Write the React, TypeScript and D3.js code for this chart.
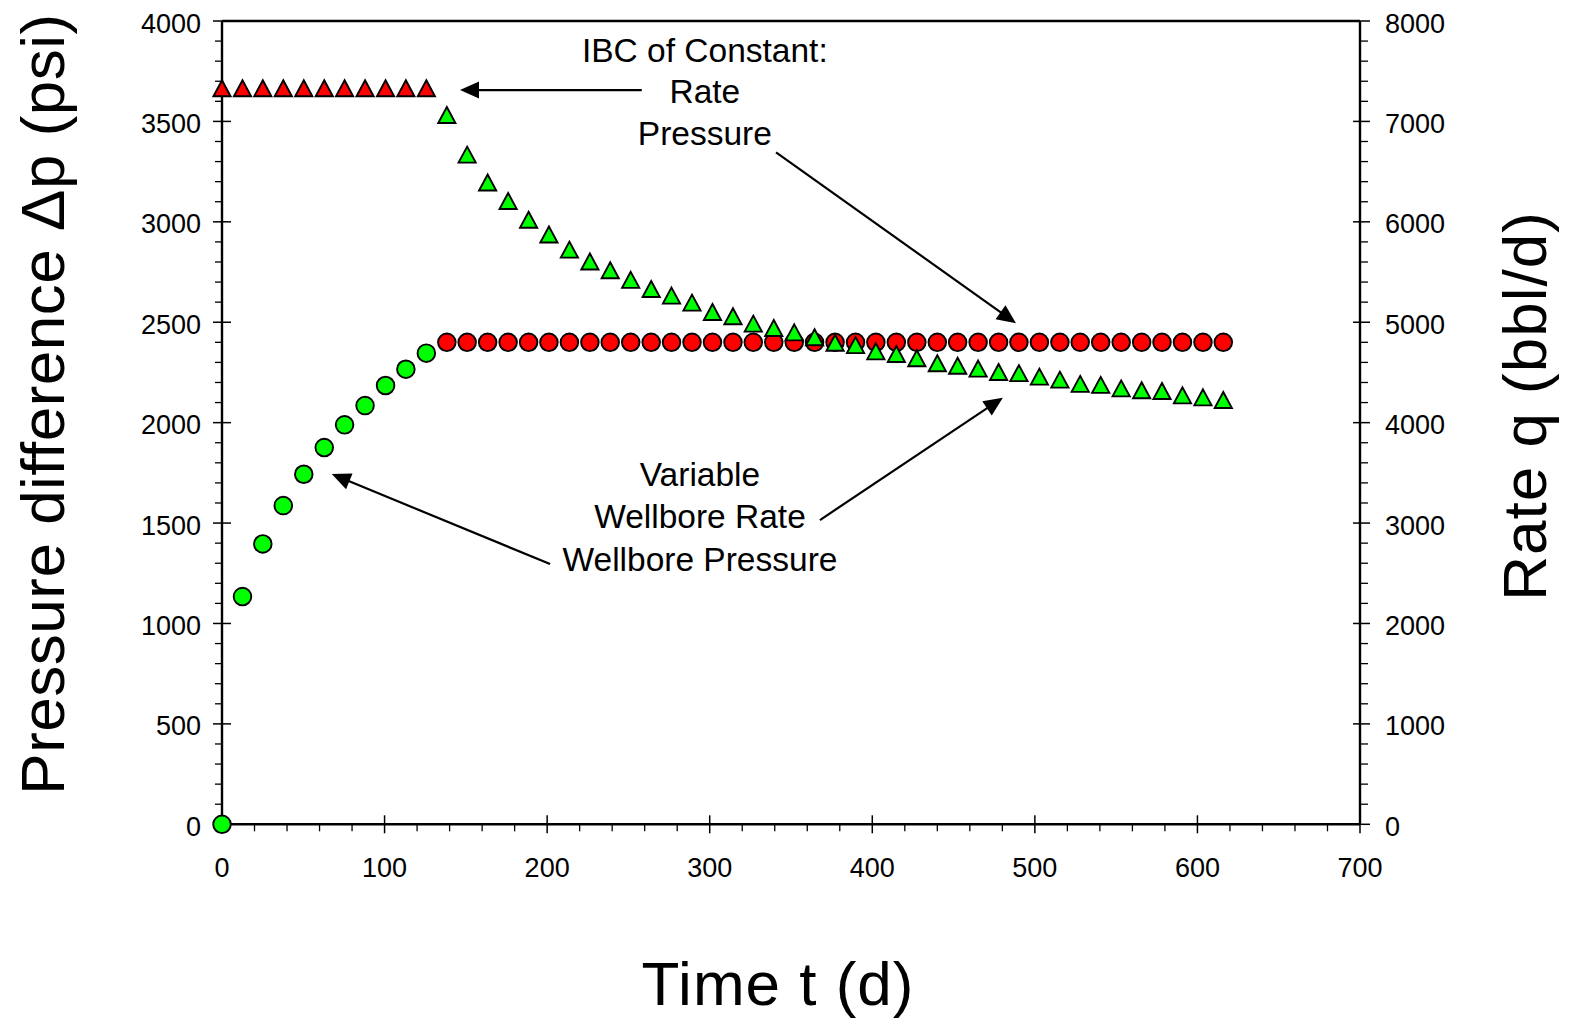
import React from "react";
import * as d3 from "d3";

// Time of each sample, days
const timeDays = [
  0, 12.6, 25.1, 37.7, 50.3, 62.9, 75.4, 88.0, 100.6, 113.1, 125.7,
  138.3, 150.8, 163.4, 176.0, 188.6, 201.1, 213.7, 226.3, 238.8, 251.4,
  264.0, 276.5, 289.1, 301.7, 314.3, 326.8, 339.4, 352.0, 364.5, 377.1,
  389.7, 402.2, 414.8, 427.4, 440.0, 452.5, 465.1, 477.7, 490.2, 502.8,
  515.4, 527.9, 540.5, 553.1, 565.7, 578.2, 590.8, 603.4, 615.9,
];

// Constant-rate period (first 11 samples)
const wellborePressure = [0, 1134, 1396, 1587, 1743, 1876, 1989, 2085, 2185, 2266, 2346];
const constantRate = [7330, 7330, 7330, 7330, 7330, 7330, 7330, 7330, 7330, 7330, 7330];

// Constant-pressure period (remaining 39 samples)
const constantPressure = [
  2400, 2400, 2400, 2400, 2400, 2400, 2400, 2400, 2400, 2400,
  2400, 2400, 2400, 2400, 2400, 2400, 2400, 2400, 2400, 2400,
  2400, 2400, 2400, 2400, 2400, 2400, 2400, 2400, 2400, 2400,
  2400, 2400, 2400, 2400, 2400, 2400, 2400, 2400, 2400,
];
const wellboreRate = [
  7064, 6669, 6391, 6208, 6020, 5874, 5723, 5605, 5517, 5422,
  5331, 5265, 5195, 5102, 5059, 4986, 4942, 4899, 4851, 4795,
  4772, 4710, 4683, 4642, 4591, 4567, 4538, 4504, 4493, 4458,
  4428, 4386, 4376, 4341, 4322, 4315, 4272, 4252, 4225,
];

const xTicks = [0, 100, 200, 300, 400, 500, 600, 700];
const pressureTicks = [0, 500, 1000, 1500, 2000, 2500, 3000, 3500, 4000];
const rateTicks = [0, 1000, 2000, 3000, 4000, 5000, 6000, 7000, 8000];

const RED = "#ff0000";
const GREEN = "#00ff00";
const FONT = "'Liberation Sans', Arial, sans-serif";

export default function App() {
  const width = 1570;
  const height = 1018;
  const left = 222;
  const right = 1360;
  const top = 21;
  const bottom = 824.3;

  const x = d3.scaleLinear().domain([0, 700]).range([left, right]);
  const yP = d3.scaleLinear().domain([0, 4000]).range([bottom, top]);
  const yQ = d3.scaleLinear().domain([0, 8000]).range([bottom, top]);

  const xMinor = d3.range(0, 701, 20).filter((v) => v % 100 !== 0);
  const pMinor = d3.range(0, 4001, 100).filter((v) => v % 500 !== 0);
  const qMinor = d3.range(0, 8001, 200).filter((v) => v % 1000 !== 0);

  const nConst = constantRate.length;
  const pressurePoints = [
    ...wellborePressure.map((p, i) => ({ t: timeDays[i], v: p, c: GREEN })),
    ...constantPressure.map((p, i) => ({ t: timeDays[nConst + i], v: p, c: RED })),
  ];
  const ratePoints = [
    ...constantRate.map((q, i) => ({ t: timeDays[i], v: q, c: RED })),
    ...wellboreRate.map((q, i) => ({ t: timeDays[nConst + i], v: q, c: GREEN })),
  ];

  const tri = (cx: number, cy: number) => {
    const w = 8.6, h = 8;
    return `M${cx},${cy - h}L${cx + w},${cy + h}L${cx - w},${cy + h}Z`;
  };

  // Annotation arrows, in (time, pressure) units
  const arrows = [
    { from: [258.2, 3656], to: [146.4, 3656] },
    { from: [340.8, 3346], to: [488.4, 2495] },
    { from: [367.8, 1515], to: [480.3, 2124] },
    { from: [201.8, 1296], to: [67.5, 1744] },
  ];
  const labels = [
    { t: 297, p: 3797, text: "IBC of Constant:" },
    { t: 297, p: 3590, text: "Rate" },
    { t: 297, p: 3383, text: "Pressure" },
    { t: 294, p: 1686, text: "Variable" },
    { t: 294, p: 1474, text: "Wellbore Rate" },
    { t: 294, p: 1263, text: "Wellbore Pressure" },
  ];

  const arrowShape = (a: { from: number[]; to: number[] }, k: number) => {
    const x1 = x(a.from[0]), y1 = yP(a.from[1]);
    const x2 = x(a.to[0]), y2 = yP(a.to[1]);
    const len = Math.hypot(x2 - x1, y2 - y1);
    const ux = (x2 - x1) / len, uy = (y2 - y1) / len;
    const hl = 19, hw = 8.5;
    const bx = x2 - ux * hl, by = y2 - uy * hl;
    const pts = [
      [x2, y2],
      [bx - uy * hw, by + ux * hw],
      [bx + uy * hw, by - ux * hw],
    ];
    return (
      <g key={k}>
        <line x1={x1} y1={y1} x2={bx + ux * 2} y2={by + uy * 2} stroke="#000" strokeWidth={2.2} />
        <polygon points={pts.map((p) => p.join(",")).join(" ")} fill="#000" />
      </g>
    );
  };

  return (
    <svg
      width={width}
      height={height}
      style={{ position: "absolute", left: 0, top: 0, background: "#fff" }}
      fontFamily={FONT}
    >
      <rect width={width} height={height} fill="#fff" />

      {/* frame */}
      <line x1={left} y1={top} x2={right} y2={top} stroke="#000" strokeWidth={2.4} />
      <line x1={left} y1={top} x2={left} y2={bottom} stroke="#000" strokeWidth={2.4} />
      <line x1={right} y1={top} x2={right} y2={bottom} stroke="#000" strokeWidth={2.4} />
      <line x1={left} y1={bottom} x2={right} y2={bottom} stroke="#000" strokeWidth={2.4} />

      {/* x axis ticks */}
      {xMinor.map((v) => (
        <line key={"xm" + v} x1={x(v)} x2={x(v)} y1={bottom} y2={bottom + 7} stroke="#000" strokeWidth={1.3} />
      ))}
      {xTicks.map((v) => (
        <g key={"x" + v}>
          <line x1={x(v)} x2={x(v)} y1={bottom - 9} y2={bottom + 9} stroke="#000" strokeWidth={1.5} />
          <text x={x(v)} y={877} fontSize={27} textAnchor="middle" fill="#000">
            {v}
          </text>
        </g>
      ))}

      {/* left axis ticks */}
      {pMinor.map((v) => (
        <line key={"pm" + v} x1={left - 7} x2={left} y1={yP(v)} y2={yP(v)} stroke="#000" strokeWidth={1.3} />
      ))}
      {pressureTicks.map((v) => (
        <g key={"p" + v}>
          <line x1={left - 9} x2={left + 9} y1={yP(v)} y2={yP(v)} stroke="#000" strokeWidth={1.5} />
          <text x={201} y={yP(v) + 11.5} fontSize={27} textAnchor="end" fill="#000">
            {v}
          </text>
        </g>
      ))}

      {/* right axis ticks */}
      {qMinor.map((v) => (
        <line key={"qm" + v} x1={right} x2={right + 8} y1={yQ(v)} y2={yQ(v)} stroke="#000" strokeWidth={1.3} />
      ))}
      {rateTicks.map((v) => (
        <g key={"q" + v}>
          <line x1={right - 7} x2={right + 10} y1={yQ(v)} y2={yQ(v)} stroke="#000" strokeWidth={1.5} />
          <text x={1385} y={yQ(v) + 11.5} fontSize={27} textAnchor="start" fill="#000">
            {v}
          </text>
        </g>
      ))}

      {/* pressure markers */}
      {pressurePoints.map((d, i) => (
        <circle key={"c" + i} cx={x(d.t)} cy={yP(d.v)} r={8.8} fill={d.c} stroke="#000" strokeWidth={1.9} />
      ))}

      {/* rate markers */}
      {ratePoints.map((d, i) => (
        <path key={"t" + i} d={tri(x(d.t), yQ(d.v))} fill={d.c} stroke="#000" strokeWidth={1.9} />
      ))}

      {/* annotations */}
      {labels.map((l, i) => (
        <text key={"l" + i} x={x(l.t)} y={yP(l.p)} fontSize={33.5} textAnchor="middle" fill="#000">
          {l.text}
        </text>
      ))}
      {arrows.map(arrowShape)}

      {/* axis titles */}
      <text x={778} y={1005} fontSize={62} letterSpacing={1} textAnchor="middle" fill="#000">
        Time t (d)
      </text>
      <text transform="translate(64,404) rotate(-90)" fontSize={62} letterSpacing={0.5} textAnchor="middle" fill="#000">
        Pressure difference Δp (psi)
      </text>
      <text transform="translate(1546,406) rotate(-90)" fontSize={62} letterSpacing={1} textAnchor="middle" fill="#000">
        Rate q (bbl/d)
      </text>
    </svg>
  );
}
